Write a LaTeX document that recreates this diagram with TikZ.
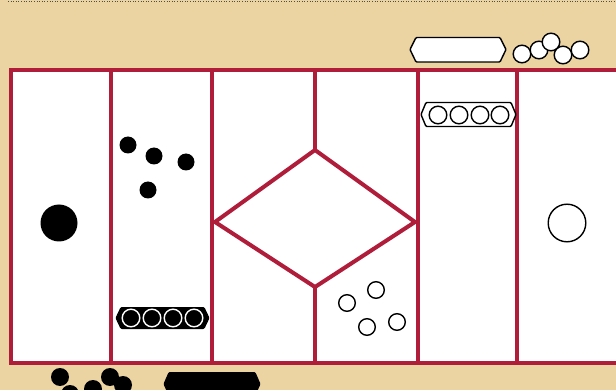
\documentclass[tikz,border=0pt]{standalone}
\usetikzlibrary{calc}
\definecolor{bgtan}{HTML}{EBD3A2}
\definecolor{frred}{HTML}{AF1D3B}
\tikzset{
  frame/.style={draw=frred,line width=4pt},
  bdot/.style={fill=black},
  wdot/.style={fill=white,draw=black,line width=1.4pt},
  wring/.style={draw=white,line width=1.4pt},
  whex/.style={fill=white,draw=black,line width=1.4pt,rounded corners=1pt},
  bhex/.style={fill=black,draw=black,line width=1pt,rounded corners=1pt},
}
\begin{document}
\begin{tikzpicture}[x=1pt,y=-1pt]
\useasboundingbox (0,0) rectangle (616,390);
\clip (0,0) rectangle (616,390);
\fill[bgtan] (0,0) rectangle (616,390);
\draw[black!70,line width=0.6pt,dotted] (8,1) -- (616,1);
% frame
\fill[white] (11,70) rectangle (622,363);
\draw[frame] (11,70) rectangle (622,363);
\foreach \x in {111,212,418,517} \draw[frame] (\x,70) -- (\x,363);
\coordinate (dt) at (315,150);
\coordinate (dl) at (215,222);
\coordinate (dr) at (415,222);
\coordinate (db) at (315,287);
\draw[frame,line join=miter] (dt) -- (dr) -- (db) -- (dl) -- cycle;
\draw[frame] (315,70) -- (dt);
\draw[frame] (db) -- (315,363);
% column 1
\fill[bdot] (59,223) circle (18.5);
% column 2
\foreach \p in {(128,145),(154,156),(186,162),(148,190)} \fill[bdot] \p circle (8.5);
\draw[bhex] (116,318) -- (121,307.5) -- (204,307.5) -- (209,318) -- (204,328.5) -- (121,328.5) -- cycle;
\foreach \x in {131,152,173,194} \draw[wring] (\x,318) circle (8.8);
% column 4
\foreach \p in {(347,303),(376,290),(367,327),(397,322)} \draw[wdot] \p circle (8.3);
% column 5
\draw[whex] (421,114.5) -- (426,102.5) -- (511,102.5) -- (516,114.5) -- (511,126.5) -- (426,126.5) -- cycle;
\foreach \x in {438,459,480,500} \draw[wdot] (\x,115) circle (8.8);
% column 6
\draw[wdot] (567,223) circle (18.8);
% top items
\draw[whex] (410,49.5) -- (416,37.5) -- (500,37.5) -- (506,49.5) -- (500,62) -- (416,62) -- cycle;
\foreach \p in {(522,54),(539,50),(551,42),(563,55),(580,50)} \draw[wdot] \p circle (8.8);
% bottom items
\foreach \p in {(60,377),(70,394),(93,389),(110,377),(123,385)} \fill[bdot] \p circle (9);
\fill[bhex] (164,384) -- (169,372.5) -- (255,372.5) -- (260,384) -- (255,395) -- (169,395) -- cycle;
\end{tikzpicture}
\end{document}
